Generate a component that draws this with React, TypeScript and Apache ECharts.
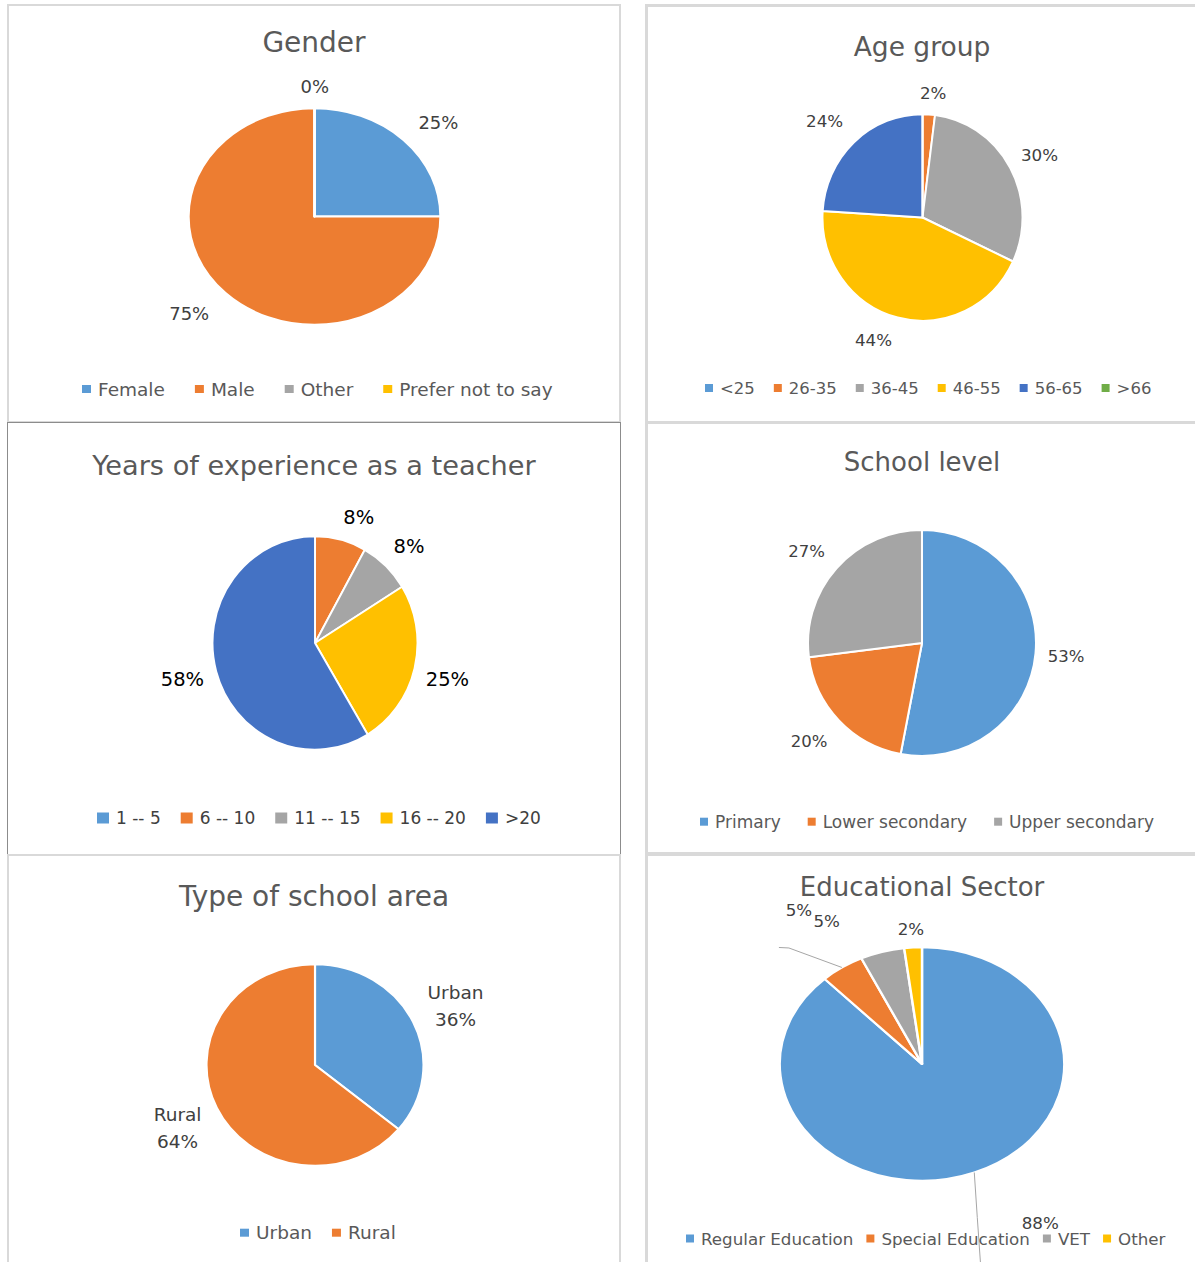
import React, { useEffect, useRef } from "react";
import * as echarts from "echarts";

// ---------- data ----------
const genderCategories = ["Female", "Male", "Other", "Prefer not to say"];
const genderValues = [25, 75, 0, 0];

const ageCategories = ["<25", "26-35", "36-45", "46-55", "56-65", ">66"];
const ageValues = [0, 2, 30, 44, 24, 0];

const experienceCategories = ["1 -- 5", "6 -- 10", "11 -- 15", "16 -- 20", ">20"];
const experienceValues = [0, 8, 8, 25, 58];

const schoolLevelCategories = ["Primary", "Lower secondary", "Upper secondary"];
const schoolLevelValues = [53, 20, 27];

const areaCategories = ["Urban", "Rural"];
const areaValues = [36, 64];

const sectorCategories = ["Regular Education", "Special Education", "VET", "Other"];
const sectorValues = [88, 5, 5, 2];

// ---------- styles ----------
const BLUE = "#5b9bd5";
const ORANGE = "#ed7d31";
const GRAY = "#a5a5a5";
const GOLD = "#ffc000";
const NAVY = "#4472c4";
const GREEN = "#70ad47";
const PALETTE = [BLUE, ORANGE, GRAY, GOLD, NAVY, GREEN];
const FONT = "'DejaVu Sans', sans-serif";
const LIGHT_BORDER = "#d9d9d9";

type PanelSpec = {
  id: string;
  box: [number, number, number, number];
  border: string;
  title: string;
  titleSize: number;
  titleY: number;
  names: string[];
  values: number[];
  center: [number, number];
  ellipse: [number, number];
  labelSize: number;
  labelColor: string;
  labelFormat: string;
  labelLineHeight?: number;
  hidden: number[];
  legendY: number;
  legendLeft: number;
  legendSize: number;
  legendColor: string;
  iconW: number;
  iconH: number;
  itemGap: number;
  labelShift?: Record<number, [number, number]>;
  leaders?: Record<number, [[number, number], [number, number]]>;
};

const PANELS: PanelSpec[] = [
  {
    id: "gender",
    box: [7, 4, 614, 419],
    border: `2px solid ${LIGHT_BORDER}`,
    title: "Gender",
    titleSize: 28,
    titleY: 42,
    names: genderCategories,
    values: genderValues,
    center: [314.8, 216.7],
    ellipse: [126, 108.3],
    labelSize: 18,
    labelColor: "#404040",
    labelFormat: "{c}%",
    hidden: [3],
    legendY: 389,
    legendLeft: 82,
    legendSize: 18.5,
    legendColor: "#595959",
    iconW: 9,
    iconH: 8,
    itemGap: 30,
    labelShift: { 0: [6, 1], 1: [-8, 2] },
  },
  {
    id: "age",
    box: [645, 4, 554, 420],
    border: `3px solid ${LIGHT_BORDER}`,
    title: "Age group",
    titleSize: 26.5,
    titleY: 46,
    names: ageCategories,
    values: ageValues,
    center: [922.8, 217.3],
    ellipse: [100, 103.3],
    labelSize: 16.7,
    labelColor: "#404040",
    labelFormat: "{c}%",
    hidden: [0, 5],
    legendY: 388,
    legendLeft: 705,
    legendSize: 16.5,
    legendColor: "#595959",
    iconW: 8,
    iconH: 8,
    itemGap: 19,
    labelShift: { 3: [-3, 2], 4: [-3, -3] },
  },
  {
    id: "experience",
    box: [7, 422, 614, 433],
    border: "1px solid #8c8c8c",
    title: "Years of experience as a teacher",
    titleSize: 27.2,
    titleY: 465,
    names: experienceCategories,
    values: experienceValues,
    center: [314.5, 643.3],
    ellipse: [102.5, 106.7],
    labelSize: 19.5,
    labelColor: "#000000",
    labelFormat: "{c}%",
    hidden: [0],
    legendY: 818,
    legendLeft: 97,
    legendSize: 17,
    legendColor: "#404040",
    iconW: 12,
    iconH: 11,
    itemGap: 20,
    labelShift: { 3: [0, 4] },
  },
  {
    id: "school",
    box: [645, 421, 554, 434],
    border: `3px solid ${LIGHT_BORDER}`,
    title: "School level",
    titleSize: 26,
    titleY: 461.7,
    names: schoolLevelCategories,
    values: schoolLevelValues,
    center: [922.4, 643],
    ellipse: [114, 113],
    labelSize: 16.5,
    labelColor: "#404040",
    labelFormat: "{c}%",
    hidden: [],
    legendY: 821.7,
    legendLeft: 700,
    legendSize: 17,
    legendColor: "#595959",
    iconW: 8,
    iconH: 8,
    itemGap: 27,
    labelShift: { 1: [-3, 4], 2: [-3, 0] },
  },
  {
    id: "area",
    box: [7, 854, 614, 420],
    border: `2px solid ${LIGHT_BORDER}`,
    title: "Type of school area",
    titleSize: 28,
    titleY: 896,
    names: areaCategories,
    values: areaValues,
    center: [314.5, 1065.2],
    ellipse: [108.5, 100.8],
    labelSize: 18.5,
    labelColor: "#404040",
    labelFormat: "{b}\n{c}%",
    labelLineHeight: 27,
    hidden: [],
    legendY: 1232.7,
    legendLeft: 240,
    legendSize: 18.5,
    legendColor: "#595959",
    iconW: 9,
    iconH: 8,
    itemGap: 20,
    labelShift: { 0: [4, 6], 1: [-4, -2] },
  },
  {
    id: "sector",
    box: [645, 853, 554, 420],
    border: `3px solid ${LIGHT_BORDER}`,
    title: "Educational Sector",
    titleSize: 26,
    titleY: 886.7,
    names: sectorCategories,
    values: sectorValues,
    center: [921.9, 1064],
    ellipse: [142.3, 116.7],
    labelSize: 16.7,
    labelColor: "#404040",
    labelFormat: "{c}%",
    hidden: [],
    legendY: 1238.5,
    legendLeft: 686,
    legendSize: 16.7,
    legendColor: "#595959",
    iconW: 8,
    iconH: 8,
    itemGap: 13,
    labelShift: { 0: [43, 30], 1: [-23, -38], 2: [-39, -10], 3: [2, 3] },
    leaders: {
      0: [[3, 45], [6.5, 95]],
      1: [[-53, -19.5], [-63, -20]],
    },
  },
];

function midAngles(values: number[]): number[] {
  const total = values.reduce((a, b) => a + b, 0);
  const mids: number[] = [];
  let acc = 0;
  for (const v of values) {
    mids.push(((acc + v / 2) / total) * Math.PI * 2);
    acc += v;
  }
  return mids;
}

// Pie layer: drawn as a circle of radius ry, stretched horizontally by CSS to the ellipse
function pieLayerSize(p: PanelSpec) {
  return Math.ceil(2 * p.ellipse[1] + 10);
}

function buildPieOption(p: PanelSpec): any {
  const size = pieLayerSize(p);
  return {
    animation: false,
    series: [
      {
        type: "pie",
        center: [size / 2, size / 2],
        radius: p.ellipse[1],
        startAngle: 90,
        clockwise: true,
        silent: true,
        emphasis: { scale: false },
        itemStyle: { borderColor: "#ffffff", borderWidth: 2 },
        label: { show: false },
        labelLine: { show: false },
        data: p.names.map((name, i) => ({
          name,
          value: p.values[i],
          itemStyle: { color: PALETTE[i % PALETTE.length] },
        })),
      },
    ],
  };
}

// Text layer: title, legend and the data labels of the same pie
function buildTextOption(p: PanelSpec): any {
  const [bx, by] = p.box;
  const cx = p.center[0] - bx;
  const cy = p.center[1] - by;
  const [rx, ry] = p.ellipse;
  const mids = midAngles(p.values);
  const labelLH = p.labelLineHeight ?? p.labelSize + 2;
  const legendLH = p.legendSize + 4;

  const layout = (params: any) => {
    const i = params.dataIndex;
    const th = mids[i];
    const s = Math.sin(th);
    const c = Math.cos(th);
    const w = params.labelRect.width;
    const h = params.labelRect.height;
    const fx = Math.sign(s) * Math.min(1, 4 * Math.abs(s));
    const fy = Math.sign(c) * Math.min(1, 1.5 * Math.abs(c));
    const gap = 12;
    let x = cx + (rx + gap) * s + (w / 2) * fx;
    let y = cy - (ry + gap) * c - (h / 2) * fy;
    const sh = p.labelShift ? p.labelShift[i] : undefined;
    if (sh) {
      x += sh[0];
      y += sh[1];
    }
    const res: any = { x, y, align: "center", verticalAlign: "middle" };
    const ll = p.leaders ? p.leaders[i] : undefined;
    if (ll) {
      const sx = cx + rx * s;
      const sy = cy - ry * c;
      res.labelLinePoints = [
        [sx, sy],
        [sx + ll[0][0], sy + ll[0][1]],
        [sx + ll[1][0], sy + ll[1][1]],
      ];
    }
    return res;
  };

  return {
    animation: false,
    textStyle: { fontFamily: FONT },
    title: {
      text: p.title,
      left: "center",
      top: p.titleY - by - p.titleSize / 2,
      padding: 0,
      textStyle: {
        fontSize: p.titleSize,
        lineHeight: p.titleSize,
        fontWeight: "normal",
        color: "#595959",
        fontFamily: FONT,
      },
    },
    legend: {
      data: p.names.map((name, i) => ({
        name,
        itemStyle: { color: PALETTE[i % PALETTE.length], borderWidth: 0, opacity: 1 },
      })),
      orient: "horizontal",
      left: p.legendLeft - bx,
      top: p.legendY - by - legendLH / 2,
      padding: 0,
      icon: "rect",
      itemWidth: p.iconW,
      itemHeight: p.iconH,
      itemGap: p.itemGap,
      selectedMode: false,
      itemStyle: { borderWidth: 0 },
      textStyle: {
        fontSize: p.legendSize,
        color: p.legendColor,
        lineHeight: legendLH,
        fontFamily: FONT,
        padding: [0, 0, 0, 2],
      },
    },
    series: [
      {
        type: "pie",
        center: [cx, cy],
        radius: ry,
        startAngle: 90,
        clockwise: true,
        avoidLabelOverlap: false,
        silent: true,
        emphasis: { scale: false },
        itemStyle: { color: "rgba(255,255,255,0)", borderWidth: 0 },
        label: {
          show: true,
          position: "outside",
          formatter: p.labelFormat,
          fontSize: p.labelSize,
          lineHeight: labelLH,
          color: p.labelColor,
          fontFamily: FONT,
        },
        labelLine: { show: false },
        labelLayout: layout,
        data: p.names.map((name, i) => ({
          name,
          value: p.values[i],
          itemStyle: { color: "rgba(255,255,255,0)" },
          label: { show: !p.hidden.includes(i) },
          labelLine: {
            show: !!(p.leaders && p.leaders[i]),
            lineStyle: { color: "#a6a6a6", width: 1 },
          },
        })),
      },
    ],
  };
}

function PiePanel({ spec }: { spec: PanelSpec }) {
  const pieRef = useRef<HTMLDivElement>(null);
  const textRef = useRef<HTMLDivElement>(null);
  useEffect(() => {
    if (!pieRef.current || !textRef.current) return;
    const pieChart = echarts.init(pieRef.current, undefined, { renderer: "svg" });
    pieChart.setOption(buildPieOption(spec));
    const textChart = echarts.init(textRef.current, undefined, { renderer: "svg" });
    textChart.setOption(buildTextOption(spec));
    return () => {
      pieChart.dispose();
      textChart.dispose();
    };
  }, [spec]);
  const [x, y, w, h] = spec.box;
  const size = pieLayerSize(spec);
  const sx = spec.ellipse[0] / spec.ellipse[1];
  return (
    <>
      <div
        style={{
          position: "absolute",
          left: x,
          top: y,
          width: w,
          height: h,
          boxSizing: "border-box",
          border: spec.border,
        }}
      />
      <div
        ref={pieRef}
        style={{
          position: "absolute",
          left: spec.center[0] - size / 2,
          top: spec.center[1] - size / 2,
          width: size,
          height: size,
          transform: `scale(${sx}, 1)`,
          transformOrigin: "50% 50%",
        }}
      />
      <div ref={textRef} style={{ position: "absolute", left: x, top: y, width: w, height: h }} />
    </>
  );
}

export default function App() {
  return (
    <div
      style={{
        position: "fixed",
        left: 0,
        top: 0,
        width: 1195,
        height: 1262,
        overflow: "hidden",
        background: "#ffffff",
      }}
    >
      {PANELS.map((p) => (
        <PiePanel key={p.id} spec={p} />
      ))}
    </div>
  );
}
